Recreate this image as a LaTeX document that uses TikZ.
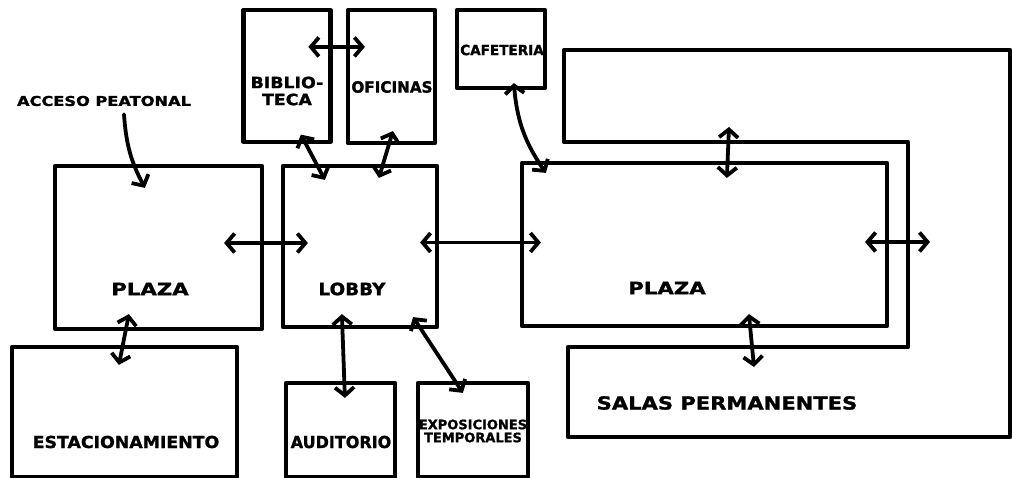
\documentclass[tikz,border=0pt]{standalone}
\usepackage{fontspec}
\usepackage{graphicx}
\newfontfamily\hand[BoldFeatures={FakeBold=1.3}]{DejaVu Sans}
\usetikzlibrary{arrows.meta}
\newcommand\sx[2]{\scalebox{#1}[1]{#2}}
\begin{document}
\begin{tikzpicture}[x=1pt,y=-1pt,
  room/.style={draw, line width=4.2pt, inner sep=0pt, line join=round},
  lbl/.style={font=\hand\bfseries, inner sep=0pt, anchor=center},
  barb/.tip={Straight Barb[length=8pt,width=19pt]},
  link/.style={line width=3.8pt, line cap=round, barb-barb},
  feed/.style={line width=3.8pt, line cap=round, -barb}]
\useasboundingbox (0,0) rectangle (1012,478);
% rooms
\node[room, minimum width=87pt, minimum height=132pt] (bib) at (287,76) {};
\node[room, minimum width=87pt, minimum height=133pt] (ofi) at (391.5,76.5) {};
\node[room, minimum width=88pt, minimum height=78pt] (caf) at (501,49) {};
\node[room, minimum width=207pt, minimum height=163pt] (plazaL) at (158.5,247.5) {};
\node[room, minimum width=154pt, minimum height=161pt] (lobby) at (360,246.5) {};
\node[room, minimum width=225pt, minimum height=130pt] (est) at (124.5,412) {};
\node[room, minimum width=109pt, minimum height=94pt] (aud) at (340.5,430) {};
\node[room, minimum width=110pt, minimum height=94pt] (expo) at (473,430) {};
\node[room, minimum width=365pt, minimum height=163pt] (plazaR) at (704.5,244.5) {};
\draw[line width=4.2pt, line join=round] (564,50) -- (1010,50) -- (1010,437) -- (568,437) -- (568,347) -- (908,347) -- (908,142) -- (564,142) -- cycle;
\coordinate (salasT) at (729,127);
\coordinate (salasB) at (754,367);
\coordinate (salasR) at (930,242);
% labels
\node[lbl, font=\hand\bfseries\fontsize{13.5}{14}\selectfont] (acc) at (104,101) {\sx{1.2}{ACCESO PEATONAL}};
\node[lbl, font=\hand\bfseries\fontsize{15.5}{16}\selectfont, align=center] (bibt) at (287,91) {\sx{1.12}{BIBLIO-}\\[1pt]\sx{1.12}{TECA}};
\node[lbl, font=\hand\bfseries\fontsize{15.5}{16}\selectfont] (ofit) at (392,87) {\sx{0.98}{OFICINAS}};
\node[lbl, font=\hand\bfseries\fontsize{14}{15}\selectfont] (caft) at (502,50) {\sx{0.97}{CAFETERIA}};
\node[lbl, font=\hand\bfseries\fontsize{17}{18}\selectfont] (plazaLt) at (150,289) {\sx{1.25}{PLAZA}};
\node[lbl, font=\hand\bfseries\fontsize{17}{18}\selectfont] (lobbyt) at (352,289) {\sx{1.08}{LOBBY}};
\node[lbl, font=\hand\bfseries\fontsize{17}{18}\selectfont] (plazaRt) at (667,288) {\sx{1.25}{PLAZA}};
\node[lbl, font=\hand\bfseries\fontsize{16.5}{18}\selectfont] (estt) at (126,442) {\sx{1.05}{ESTACIONAMIENTO}};
\node[lbl, font=\hand\bfseries\fontsize{16.5}{18}\selectfont] (audt) at (341,442) {\sx{0.97}{AUDITORIO}};
\node[lbl, font=\hand\bfseries\fontsize{13}{13}\selectfont, align=center] (expot) at (473,431) {\sx{1.0}{EXPOSICIONES}\\[0pt]\sx{1.0}{TEMPORALES}};
\node[lbl, font=\hand\bfseries\fontsize{18}{19}\selectfont] (salas) at (727,403) {\sx{1.17}{SALAS PERMANENTES}};
% connectors
\draw[feed] ([shift={(20,8)}]acc.south) to[bend right=12] ([shift={(92,24)}]plazaL.north west);
\draw[link] ([shift={(67,39)}]bib.north west) -- ([shift={(19,39)}]ofi.north west);
\draw[link] ([shift={(59.5,-9.5)}]bib.south west) -- ([shift={(44,16)}]lobby.north west);
\draw[link] ([shift={(47,-14)}]ofi.south west) -- ([shift={(98,14)}]lobby.north west);
\draw[link] ([shift={(59,-7)}]caf.south west) to[bend right=15] ([shift={(26,12)}]plazaR.north west);
\draw[link] ([shift={(-40,-4.5)}]plazaL.east) -- ([shift={(27,-3.5)}]lobby.west);
\draw[link] ([shift={(-19,-4)}]lobby.east) -- ([shift={(21,-2)}]plazaR.west);
\draw[link] ([shift={(76,-17)}]plazaL.south west) -- ([shift={(109,20)}]est.north west);
\draw[link] ([shift={(61,-15)}]lobby.south west) -- ([shift={(61,17)}]aud.north west);
\draw[link] ([shift={(-26,-12)}]lobby.south east) -- ([shift={(47,12)}]expo.north west);
\draw[link] (salasT) -- ([shift={(207,17)}]plazaR.north west);
\draw[link] ([shift={(229,-14)}]plazaR.south west) -- (salasB);
\draw[link] ([shift={(-24,-2.5)}]plazaR.east) -- (salasR);
\end{tikzpicture}
\end{document}
